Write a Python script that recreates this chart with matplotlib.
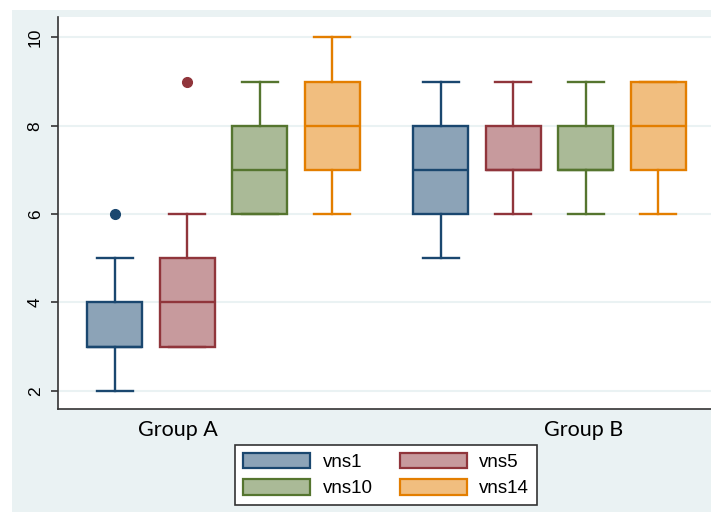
import matplotlib
matplotlib.use("Agg")
import matplotlib.pyplot as plt
from matplotlib.patches import Rectangle, Patch

# data: per group, per variable (vns1, vns5, vns10, vns14)
series = ["vns1", "vns5", "vns10", "vns14"]
groups = ["Group A", "Group B"]
whislo = [[2, 3, 6, 6], [5, 6, 6, 6]]
q1 = [[3, 3, 6, 7], [6, 7, 7, 7]]
med = [[3, 4, 7, 8], [7, 7, 7, 8]]
q3 = [[4, 5, 8, 9], [8, 8, 8, 9]]
whishi = [[5, 6, 9, 10], [9, 9, 9, 9]]
fliers = [[[6], [9], [], []], [[], [], [], []]]

edge_colors = ["#1A476F", "#90353B", "#55752F", "#E37E00"]
fill_colors = ["#8CA3B7", "#C79A9D", "#AABA97", "#F1BE7F"]
bg = "#EAF2F3"

fig = plt.figure(figsize=(7.11, 5.12), dpi=100, facecolor="white")
rect = Rectangle((12 / 711, 0), 1, 1 - 10 / 512, transform=fig.transFigure,
                 facecolor=bg, edgecolor="none", zorder=-10)
fig.patches.append(rect)
ax = fig.add_axes([58 / 711, 103 / 512, 1 - 58 / 711, 392 / 512])
ax.set_facecolor("white")

group_start = [1, 5.5]
for g in range(2):
    for i in range(4):
        stats = [dict(whislo=whislo[g][i], q1=q1[g][i], med=med[g][i], q3=q3[g][i],
                      whishi=whishi[g][i], fliers=fliers[g][i])]
        c = edge_colors[i]
        ax.bxp(stats, positions=[group_start[g] + i], widths=0.76, patch_artist=True,
               showcaps=True,
               boxprops=dict(facecolor=fill_colors[i], edgecolor=c, linewidth=1.7),
               medianprops=dict(color=c, linewidth=1.7),
               whiskerprops=dict(color=c, linewidth=1.7),
               capprops=dict(color=c, linewidth=1.7),
               flierprops=dict(marker="o", markerfacecolor=c, markeredgecolor=c, markersize=7),
               capwidths=0.5, zorder=3)

ax.set_xlim(0.214, 9.23)
ax.set_ylim(1.59, 10.46)
ax.set_yticks([2, 4, 6, 8, 10])
ax.set_yticklabels(["2", "4", "6", "8", "10"], rotation=90, va="center",
                   fontsize=12.5, family="Liberation Sans")
ax.yaxis.grid(True, color=bg, linewidth=1.5, zorder=0)
ax.set_axisbelow(True)
ax.set_xticks([1.87, 7.47])
ax.set_xticklabels(groups, fontsize=15.5, family="Lato")
ax.tick_params(axis="x", length=0, pad=8)
ax.tick_params(axis="y", length=5, width=1.2, color="#333333", pad=6)
for s in ["top", "right"]:
    ax.spines[s].set_visible(False)
for s in ["left", "bottom"]:
    ax.spines[s].set_color("#333333")
    ax.spines[s].set_linewidth(1.2)

handles = [Patch(facecolor=fill_colors[i], edgecolor=edge_colors[i], linewidth=1.6, label=series[i])
           for i in range(4)]
order = [0, 2, 1, 3]
leg = fig.legend([handles[i] for i in order], [series[i] for i in order], ncol=2,
                 loc="center", bbox_to_anchor=(386 / 711, 1 - 475 / 512),
                 prop=dict(family="Liberation Sans", size=13.5), frameon=True, fancybox=False,
                 edgecolor="#333333", facecolor="white", framealpha=1,
                 handlelength=3.6, handleheight=0.9, handletextpad=0.65,
                 columnspacing=1.45, labelspacing=0.45, borderpad=0.4)
leg.get_frame().set_linewidth(1.2)

fig.savefig("out.png", dpi=100)
